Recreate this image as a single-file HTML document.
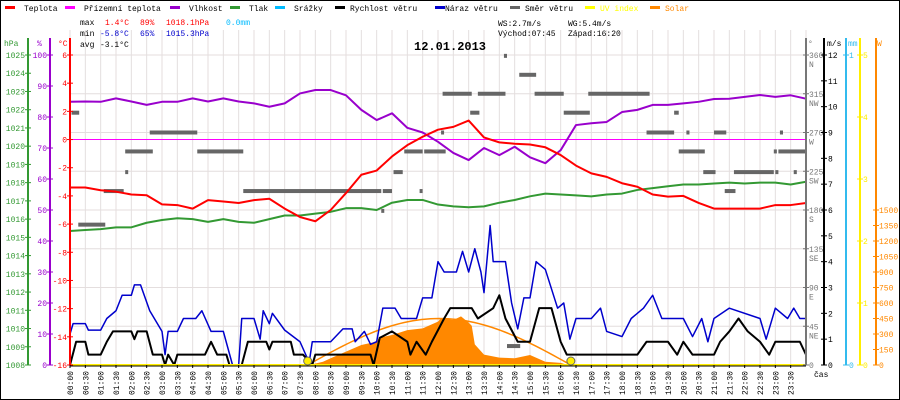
<!DOCTYPE html>
<html><head><meta charset="utf-8"><style>
html,body{margin:0;padding:0;background:#fff;}
svg{display:block;font-family:"Liberation Mono",monospace;}
</style></head><body>
<svg id="chart" width="900" height="400" viewBox="0 0 900 400" xmlns="http://www.w3.org/2000/svg">
<rect x="0" y="0" width="900" height="400" fill="#fff"/>
<g id="grid"></g>
<g id="marks"></g>
<g id="axes"></g>
<g id="legend" font-size="8">
  <g><rect x="5" y="6" width="10" height="3" fill="#f00"/><text x="24" y="11">Teplota</text></g>
  <g><rect x="65" y="6" width="10" height="3" fill="#f0f"/><text x="84" y="11">Přízemní teplota</text></g>
  <g><rect x="170" y="6" width="10" height="3" fill="#90c"/><text x="189" y="11">Vlhkost</text></g>
  <g><rect x="230" y="6" width="10" height="3" fill="#393"/><text x="249" y="11">Tlak</text></g>
  <g><rect x="275" y="6" width="10" height="3" fill="#0bf"/><text x="294" y="11">Srážky</text></g>
  <g><rect x="335" y="6" width="10" height="3" fill="#000"/><text x="350" y="11">Rychlost větru</text></g>
  <g><rect x="435" y="6" width="10" height="3" fill="#00c"/><text x="445" y="11">Náraz větru</text></g>
  <g><rect x="510" y="6" width="10" height="3" fill="#666"/><text x="525" y="11">Směr větru</text></g>
  <g><rect x="585" y="6" width="10" height="3" fill="#ff0"/><text x="600" y="11" fill="#ff0">UV index</text></g>
  <g><rect x="650" y="6" width="10" height="3" fill="#f80"/><text x="665" y="11" fill="#f80">Solar</text></g>
</g>
<g font-size="8">
  <text x="80" y="25">max</text><text x="105" y="25" fill="#f00">1.4°C</text><text x="140" y="25" fill="#f00">89%</text><text x="166" y="25" fill="#f00">1018.1hPa</text><text x="226" y="25" fill="#0bf">0.0mm</text>
  <text x="80" y="36">min</text><text x="100" y="36" fill="#00c">-5.8°C</text><text x="140" y="36" fill="#00c">65%</text><text x="166" y="36" fill="#00c">1015.3hPa</text>
  <text x="80" y="47">avg</text><text x="100" y="47">-3.1°C</text>
  <text x="498" y="26">WS:2.7m/s</text><text x="568" y="26">WG:5.4m/s</text>
  <text x="498" y="36">Východ:07:45</text><text x="568" y="36">Západ:16:20</text>
</g>
<text x="414" y="50" font-size="12" font-weight="bold">12.01.2013</text>
<rect x="0.5" y="0.5" width="899" height="399" fill="none" stroke="#000"/>
</svg>
<script>
// ---- data ----
const timeLabels = ["00:00","00:30","01:00","01:30","02:00","02:30","03:00","03:30","04:00","04:30","05:00","05:30","06:00","06:30","07:00","07:30","08:00","08:30","09:00","09:30","10:00","10:30","11:00","11:30","12:00","12:30","13:00","13:30","14:00","14:30","15:00","15:30","16:00","16:30","17:00","17:30","18:00","18:30","19:00","19:30","20:00","20:30","21:00","21:30","22:00","22:30","23:00","23:30"];
const temperature = [-3.4,-3.4,-3.6,-3.7,-3.9,-3.95,-4.6,-4.65,-4.9,-4.3,-4.4,-4.5,-4.3,-4.2,-4.9,-5.5,-5.8,-5.0,-3.8,-2.5,-2.2,-1.2,-0.4,0.2,0.7,0.9,1.35,0.15,-0.2,-0.3,-0.35,-0.55,-1.1,-1.85,-2.4,-2.65,-3.1,-3.35,-3.9,-4.05,-4.0,-4.5,-4.9,-4.9,-4.9,-4.9,-4.65,-4.65,-4.5];
const humidity = [84.9,85,84.9,86,85,83.9,84.9,84.9,86,85,86,85,84.4,83.3,84.4,87.6,88.7,88.7,87,82.3,79,81.2,76.5,75,72,68.4,66.1,70,67.7,70.4,67,65.1,69.3,77.4,78,78.4,81.6,82.3,83.9,83.9,84.4,84.9,85.8,85.9,86.5,87.1,86.5,87,85.9];
const pressure = [1015.35,1015.4,1015.45,1015.55,1015.55,1015.8,1015.95,1016.05,1016.0,1015.85,1016.0,1015.85,1015.8,1016.0,1016.2,1016.2,1016.3,1016.4,1016.6,1016.6,1016.5,1016.9,1017.05,1017.05,1016.8,1016.7,1016.65,1016.7,1016.9,1017.05,1017.25,1017.4,1017.35,1017.3,1017.25,1017.35,1017.4,1017.6,1017.7,1017.8,1017.9,1017.9,1017.95,1018.0,1017.95,1018.0,1018.0,1017.9,1018.05];
const gustHours = [0,0.1,0.5,0.6,1,1.2,1.5,1.7,2,2.1,2.3,2.6,3,3.1,3.2,3.5,3.7,4.1,4.3,4.6,5,5.3,5.5,5.6,6,6.2,6.3,6.5,6.6,7,7.5,7.8,7.9,8.5,8.9,9.2,9.3,9.6,9.8,10,10.2,10.6,10.8,11.3,11.5,11.8,12,12.2,12.6,12.8,13,13.2,13.4,13.5,13.7,13.8,14.2,14.4,14.6,14.8,15,15.2,15.5,15.9,16.1,16.3,16.5,17,17.3,17.5,18,18.3,18.7,19,19.3,20,20.3,20.6,20.8,21,21.5,22.5,22.7,23,23.4,23.6,23.8,24];
const gustValues = [1.2,1.6,1.6,1.35,1.35,1.8,2.1,2.7,2.7,3.1,3.1,2.1,1.3,0.4,1.3,1.3,1.8,1.8,2.1,1.3,1.3,0,0,1.8,1.8,1.0,2.1,1.6,2.0,1.35,0.9,0.1,0.9,0.9,1.4,1.4,0.9,1.3,0.8,0.9,2.2,2.2,1.8,1.8,2.6,2.6,4.0,3.6,3.6,4.4,3.6,4.5,3.6,2.8,5.4,4.0,4.0,2.4,1.4,2.6,2.6,4.0,3.7,2.2,2.4,1.0,1.8,1.8,2.2,1.3,1.1,1.8,2.2,2.7,1.8,1.8,1.1,1.8,0.9,1.8,2.2,1.8,1.0,2.2,1.8,2.2,1.8,1.8];
const speedHours = [0,0.2,0.5,0.6,1,1.2,1.4,2,2.1,2.2,2.5,2.7,3.0,3.1,3.2,3.4,3.5,4.4,4.6,4.8,5.1,5.2,5.6,5.8,6.4,6.5,6.6,7.2,7.3,7.6,7.9,8,9.8,9.9,10.1,10.5,11,11.1,11.3,11.6,11.8,12.2,12.4,13.1,13.3,13.8,14.0,14.2,14.6,15.0,15.3,15.7,16.0,16.2,18.5,18.8,19.5,19.8,20.0,20.3,21,21.2,21.5,21.8,22.1,22.5,22.8,23,23.8,24];
const speedValues = [0,0.9,0.9,0.4,0.4,0.9,1.3,1.3,1.0,1.3,1.3,0.4,0.4,0,0.4,0,0.4,0.4,0.9,0.4,0.4,0,0,0.9,0.9,0.6,0.9,0.9,0.4,0.4,0,0.4,0.4,0,1.05,1.3,0.9,0.4,0.9,0.4,0.9,1.8,2.2,2.2,1.8,2.2,2.7,1.8,0.9,0.9,2.2,2.2,0.9,0.4,0.4,0.9,0.9,0.4,0.9,0.4,0.4,0.9,1.3,1.8,1.3,0.9,0.4,0.9,0.9,0.4];
const solarHours = [7.8,8.25,8.5,9,9.5,10,10.1,10.25,10.5,11,11.5,12,12.1,12.5,12.75,13,13.1,13.2,13.5,14,14.5,15,15.5,16,16.25];
const solarWatts = [0,32,65,129,194,226,274,274,290,338,355,420,452,435,470,410,380,200,100,71,65,97,32,20,0];
const dirStart = [0.05,0.27,1.1,1.8,1.8,2.6,4.15,5.65,10.2,10.15,10.55,10.9,11.4,11.55,12.1,12.15,13.05,13.3,14.15,14.25,14.65,15.15,16.1,16.9,18.8,19.7,19.85,20.1,20.65,21.0,21.35,21.65,22.95,23.0,23.1,23.15,23.6];
const dirEnd   = [0.3,1.15,1.75,1.85,2.7,4.15,5.65,10.15,10.5,10.2,10.85,11.5,11.45,12.25,12.15,13.1,13.35,14.2,14.25,14.68,15.2,16.1,16.95,18.9,19.7,19.85,20.7,20.2,21.05,21.4,21.7,22.95,23.05,23.1,24,23.25,23.7];
const dirDeg   = [293,163,202,224,248,270,248,202,202,179,224,248,202,248,270,315,293,315,359,22,337,315,293,315,270,293,248,270,224,270,202,224,248,224,248,270,224];
const sunriseHour = 7.75, sunsetHour = 16.333, clearSkyMax = 450;
const leftHpaTicks = [1025,1024,1023,1022,1021,1020,1019,1018,1017,1016,1015,1014,1013,1012,1011,1010,1009,1008];
const humTicks = [100,90,80,70,60,50,40,30,20,10,0];
const tempTicks = [6,4,2,0,-2,-4,-6,-8,-10,-12,-14,-16];
const dirTicks = [360,315,270,225,180,135,90,45,0];
const dirNames = ["N","NW","W","SW","S","SE","E","NE",""];
const msTicks = [12,11,10,9,8,7,6,5,4,3,2,1,0];
const uvTicks = [5,4,3,2,1,0];
const wTicks = [1500,1350,1200,1050,900,750,600,450,300,150,0];

// ---- scales ----
const X0=70, X1=806, YT=55, YB=365;
const xH = h => X0 + h*(X1-X0)/24;
const yTemp = v => YB - (v+16)*(YB-YT)/22;
const yHum = v => YB - v*(YB-YT)/100;
const yP = v => YB - (v-1008)*(YB-YT)/17;
const yMs = v => YB - v*(YB-YT)/12;
const yDir = v => YB - v*(YB-YT)/360;
const yUv = v => YB - v*(YB-YT)/5;
const yW = v => YB - v*(YB-YT)/3000;

const NS="http://www.w3.org/2000/svg";
function mk(parent, tag, attrs){const e=document.createElementNS(NS,tag);for(const k in attrs)e.setAttribute(k,attrs[k]);parent.appendChild(e);return e;}
const grid=document.getElementById('grid'), marks=document.getElementById('marks'), axes=document.getElementById('axes');

// grid
for(let i=0;i<=48;i++){const x=xH(i/2);
  const l=mk(grid,'line',{x1:x,y1:30,x2:x,y2:YB,stroke:'#e4dede','stroke-width':1});
  
  
}
dirTicks.forEach(d=>{const y=yDir(d);
  const l=mk(grid,'line',{x1:X0,y1:y,x2:X1,y2:y,stroke:'#e4dede','stroke-width':1});
  
  
});

// solar fill
{let d=`M${xH(solarHours[0])},${YB}`;solarHours.forEach((h,i)=>{d+=` L${xH(h)},${yW(solarWatts[i])}`;});d+=` L${xH(solarHours[solarHours.length-1])},${YB} Z`;
 const p=mk(marks,'path',{d,fill:'#ff8800'});
 
 }
// clear sky arc
{let d='';for(let i=0;i<=60;i++){const h=sunriseHour+(sunsetHour-sunriseHour)*i/60;const w=clearSkyMax*Math.sin(Math.PI*i/60);d+=(i?' L':'M')+xH(h)+','+yW(w);}
 const p=mk(marks,'path',{d,fill:'none',stroke:'#ff8800','stroke-width':1.5});
 
 }
// direction bars
dirDeg.forEach((deg,i)=>{const y=yDir(deg);
  const r=mk(marks,'rect',{x:xH(dirStart[i]),y:y-2,width:Math.max(3,xH(dirEnd[i])-xH(dirStart[i])),height:4,fill:'#666'});
  
  
});
// zero line
{const l=mk(marks,'line',{x1:X0,y1:yTemp(0),x2:X1,y2:yTemp(0),stroke:'#ff00ff','stroke-width':1});
 
 }
function line(hours, vals, yf, color, w, name){
  const d=vals.map((v,i)=>(i?'L':'M')+xH(hours[i])+','+yf(v)).join(' ');
  const p=mk(marks,'path',{d,fill:'none',stroke:color,'stroke-width':w,'stroke-linejoin':'round'});
  
  
}
const halfHours = temperature.map((_,i)=>i/2);
line(halfHours,pressure,yP,'#339933',2,'pressure-line');
line(halfHours,humidity,yHum,'#9900cc',2,'humidity-line');
line(halfHours,temperature,yTemp,'#ff0000',2,'temperature-line');
line(gustHours,gustValues,yMs,'#0000cc',1.5,'wind-gust-line');
line(speedHours,speedValues,yMs,'#000000',2,'wind-speed-line');
// UV line at 0
{const l=mk(marks,'line',{x1:X0,y1:YB,x2:X1,y2:YB,stroke:'#ffee00','stroke-width':2});
 
 }
[sunriseHour,sunsetHour].forEach(h=>{
  const c=mk(marks,'circle',{cx:xH(h),cy:YB-4,r:4,fill:'#ffee00',stroke:'#666','stroke-width':1});
  
  
});

// axes
function vaxis(x,color,name){const l=mk(axes,'line',{x1:x,y1:38,x2:x,y2:YB,stroke:color,'stroke-width':2});
  
  }
function tick(x,y,color,label,anchor,tx,name){
  mk(axes,'line',{x1:x-3,y1:y,x2:x+3,y2:y,stroke:color,'stroke-width':1});
  const t=mk(axes,'text',{x:tx,y:y+3,fill:color,'font-size':8,'text-anchor':anchor});
  t.textContent=label;
  
  
}
vaxis(28,'#339933','pressure-axis');vaxis(50,'#9900cc','humidity-axis');vaxis(X0,'#ff0000','temperature-axis');
vaxis(X1,'#777','direction-axis');vaxis(824,'#000','wind-speed-axis');vaxis(846,'#33bbee','rain-axis');vaxis(860,'#ffee00','uv-axis');vaxis(876,'#ff8800','solar-axis');
leftHpaTicks.forEach(v=>tick(28,yP(v),'#339933',String(v),'end',25,'pressure-tick-label'));
humTicks.forEach(v=>tick(50,yHum(v),'#9900cc',String(v),'end',47,'humidity-tick-label'));
tempTicks.forEach(v=>tick(X0,yTemp(v),'#ff0000',String(v),'end',67,'temperature-tick-label'));
dirTicks.forEach((v,i)=>{tick(X1,yDir(v),'#777',String(v),'start',809,'direction-tick-label');
  if(dirNames[i]){const t=mk(axes,'text',{x:809,y:yDir(v)+12,fill:'#777','font-size':8});t.textContent=dirNames[i];
  
  }});
msTicks.forEach(v=>tick(824,yMs(v),'#000',String(v),'start',828,'wind-speed-tick-label'));
[1,0].forEach(v=>tick(846,YB-v*(YB-YT),'#33bbee',String(v),'start',849,'rain-tick-label'));
uvTicks.forEach(v=>tick(860,yUv(v),'#ffee00',String(v),'start',863,'uv-tick-label'));
wTicks.forEach(v=>tick(876,yW(v),'#ff8800',String(v),'start',879,'solar-tick-label'));
[['hPa',4,'#339933'],['%',37,'#9900cc'],['°C',58,'#ff0000'],['°',808,'#777'],['m/s',827,'#000'],['mm',848,'#33bbee'],['W',877,'#ff8800']].forEach(a=>{
  const t=mk(axes,'text',{x:a[1],y:46,fill:a[2],'font-size':8});t.textContent=a[0];
  
  
});
// bottom axis
{const l=mk(axes,'line',{x1:X0,y1:YB+1,x2:X1,y2:YB+1,stroke:'#000','stroke-width':1});
 
 }
timeLabels.forEach((lab,i)=>{const x=xH(i/2);
  mk(axes,'line',{x1:x,y1:YB,x2:x,y2:YB+3,stroke:'#000'});
  const t=mk(axes,'text',{x:0,y:0,'font-size':8,'text-anchor':'end',transform:`translate(${x+3},371) rotate(-90)`});
  t.textContent=lab;
  
  
});
{const t=mk(axes,'text',{x:814,y:377,'font-size':8});t.textContent='čas';
 
 }
</script>
</body></html>
